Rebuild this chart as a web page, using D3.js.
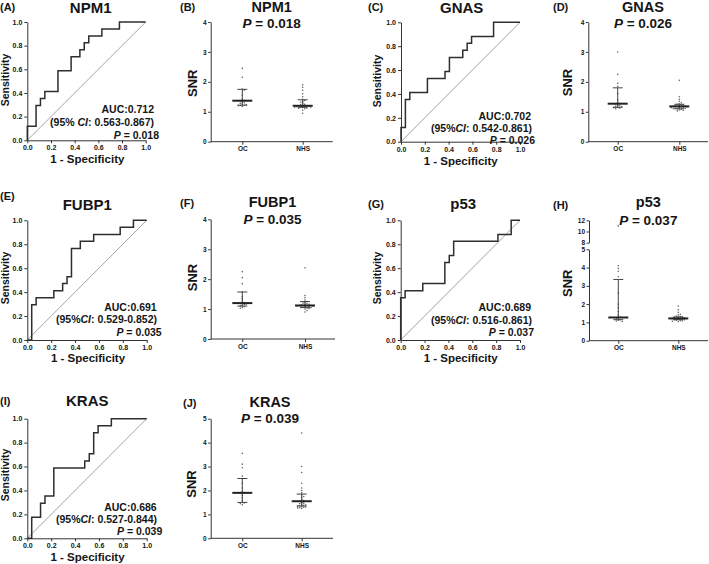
<!DOCTYPE html>
<html><head><meta charset="utf-8">
<script src="https://cdn.jsdelivr.net/npm/d3@7"></script>
<style>
body{margin:0;background:#fff}
svg{display:block}
text{font-family:"Liberation Sans",Arial,sans-serif;font-weight:bold;fill:#151515}
</style>
</head><body>
<svg id="c" width="709" height="564"></svg>
<script>
// ---------------- DATA ----------------
const rocGenes = ["NPM1", "GNAS", "FUBP1", "p53", "KRAS"];
const rocLetters = ["(A)", "(C)", "(E)", "(G)", "(I)"];
const aucValues = ["0.712", "0.702", "0.691", "0.689", "0.686"];
const ciLow = ["0.563", "0.542", "0.529", "0.516", "0.527"];
const ciHigh = ["0.867", "0.861", "0.852", "0.861", "0.844"];
const pValues = ["0.018", "0.026", "0.035", "0.037", "0.039"];
const rocTicks = [0, 0.2, 0.4, 0.6, 0.8, 1.0];

// ROC step corners (1 - specificity, sensitivity)
const npm1Fpr = [0, 0, 0.074, 0.111, 0.148, 0.259, 0.370, 0.444, 0.481, 0.519, 0.630, 0.778, 1.0];
const npm1Tpr = [0, 0.118, 0.294, 0.353, 0.412, 0.588, 0.706, 0.765, 0.824, 0.882, 0.941, 1.0, 1.0];
const gnasFpr = [0, 0, 0.037, 0.074, 0.222, 0.370, 0.407, 0.519, 0.556, 0.593, 0.778, 1.0];
const gnasTpr = [0, 0.118, 0.353, 0.412, 0.529, 0.588, 0.706, 0.765, 0.824, 0.882, 1.0, 1.0];
const fubp1Fpr = [0, 0.037, 0.074, 0.222, 0.296, 0.333, 0.370, 0.444, 0.556, 0.778, 0.889, 1.0];
const fubp1Tpr = [0, 0.294, 0.353, 0.412, 0.471, 0.529, 0.765, 0.824, 0.882, 0.941, 1.0, 1.0];
const p53Fpr = [0, 0, 0.037, 0.185, 0.370, 0.407, 0.444, 0.815, 0.926, 1.0];
const p53Tpr = [0, 0.353, 0.412, 0.471, 0.647, 0.706, 0.824, 0.882, 1.0, 1.0];
const krasFpr = [0, 0.037, 0.111, 0.148, 0.222, 0.481, 0.519, 0.556, 0.593, 0.704, 1.0];
const krasTpr = [0, 0.176, 0.294, 0.353, 0.588, 0.647, 0.706, 0.882, 0.941, 1.0, 1.0];

// SNR scatter data
const groups = ["OC", "NHS"];
const scatterGenes = ["NPM1", "GNAS", "FUBP1", "p53", "KRAS"];
const scatterLetters = ["(B)", "(D)", "(F)", "(H)", "(J)"];

const npm1OC = [2.45, 2.15, 1.76, 1.72, 1.55, 1.42, 1.38, 1.37, 1.33, 1.30, 1.28, 1.25, 1.24, 1.22, 1.21, 1.20, 1.18];
const npm1NHS = [1.90, 1.82, 1.72, 1.60, 1.50, 1.42, 1.38, 1.35, 1.32, 1.28, 1.25, 1.23, 1.21, 1.20, 1.20, 1.19, 1.18, 1.17, 1.16, 1.15, 1.15, 1.14, 1.13, 1.12, 1.10, 1.05, 0.95];
const npm1Median = [1.37, 1.20], npm1Q1 = [1.22, 1.15], npm1Q3 = [1.75, 1.40];

const gnasOC = [3.0, 2.25, 1.95, 1.85, 1.6, 1.4, 1.3, 1.27, 1.25, 1.22, 1.2, 1.18, 1.17, 1.15, 1.14, 1.12, 1.1];
const gnasNHS = [2.05, 1.5, 1.42, 1.35, 1.3, 1.27, 1.25, 1.23, 1.22, 1.2, 1.2, 1.19, 1.18, 1.18, 1.17, 1.16, 1.15, 1.14, 1.13, 1.12, 1.12, 1.1, 1.1, 1.08, 1.06, 1.05, 1.03];
const gnasMedian = [1.27, 1.18], gnasQ1 = [1.15, 1.10], gnasQ3 = [1.80, 1.25];

const fubp1OC = [2.25, 2.05, 1.85, 1.58, 1.42, 1.35, 1.28, 1.22, 1.2, 1.18, 1.16, 1.15, 1.12, 1.1, 1.08, 1.05, 1.03];
const fubp1NHS = [2.38, 1.45, 1.38, 1.3, 1.25, 1.22, 1.2, 1.18, 1.16, 1.15, 1.14, 1.13, 1.12, 1.12, 1.11, 1.1, 1.1, 1.09, 1.08, 1.07, 1.06, 1.05, 1.04, 1.02, 1.0, 0.95, 0.9];
const fubp1Median = [1.20, 1.12], fubp1Q1 = [1.10, 1.05], fubp1Q3 = [1.57, 1.25];

const p53OC = [11.0, 4.1, 3.95, 3.8, 3.5, 2.6, 2.0, 1.8, 1.6, 1.4, 1.3, 1.25, 1.2, 1.15, 1.12, 1.08, 1.05];
const p53NHS = [1.9, 1.7, 1.55, 1.45, 1.4, 1.35, 1.32, 1.3, 1.28, 1.26, 1.25, 1.23, 1.22, 1.21, 1.2, 1.2, 1.19, 1.18, 1.17, 1.16, 1.15, 1.14, 1.12, 1.1, 1.08, 1.06, 1.05];
const p53Median = [1.27, 1.22], p53Q1 = [1.15, 1.15], p53Q3 = [3.35, 1.30];

const krasOC = [3.55, 3.1, 2.95, 2.6, 2.5, 2.3, 2.1, 1.95, 1.9, 1.88, 1.8, 1.7, 1.6, 1.5, 1.48, 1.45, 1.4];
const krasNHS = [4.4, 3.0, 2.75, 2.3, 2.1, 2.0, 1.9, 1.82, 1.75, 1.7, 1.62, 1.58, 1.55, 1.5, 1.47, 1.45, 1.42, 1.4, 1.38, 1.36, 1.35, 1.33, 1.31, 1.3, 1.28, 1.27, 1.25];
const krasMedian = [1.90, 1.55], krasQ1 = [1.50, 1.35], krasQ3 = [2.50, 1.85];

const snrTicks4 = [0, 1, 2, 3, 4];
const snrTicks5 = [0, 1, 2, 3, 4, 5];
const snrTicksUpper = [8, 10, 12];

// ---------------- LAYOUT ----------------
const FONT = '"Liberation Sans", Arial, sans-serif';
const svg = d3.select("#c");
svg.append("rect").attr("width", 709).attr("height", 564).attr("fill", "#fff");

const rocLayout = [
  {box: [27.3, 145.7, 22, 140.3], letter: [0, 11], title: [90.7, 13], ylab: [5.5, 80], xlab: [87.3, 162.5],
   ends: [154, 154, 159], bases: [113, 126, 139], ciSpace: true},
  {box: [401, 520, 22.3, 141.7], letter: [368, 11], title: [461.7, 13], ylab: [377.3, 81], xlab: [460.7, 165],
   ends: [531, 532, 535], bases: [119.5, 132, 143.5], ciSpace: false},
  {box: [27.3, 146.7, 220.3, 340], letter: [0, 200], title: [87.3, 210], ylab: [5.5, 278], xlab: [88, 361.5],
   ends: [156.7, 157, 161.7], bases: [310.7, 323, 336], ciSpace: false},
  {box: [400.7, 520, 220.3, 340], letter: [368, 208], title: [463.3, 208.5], ylab: [377.3, 278], xlab: [460.7, 361.5],
   ends: [531, 532, 534], bases: [311.3, 323.5, 336], ciSpace: false},
  {box: [27.3, 146.7, 418.7, 538.3], letter: [0, 405], title: [87.3, 406], ylab: [5.5, 475], xlab: [87.5, 561],
   ends: [156.7, 157, 162.3], bases: [510.7, 523, 535], ciSpace: false}
];

const scatterLayout = [
  {axisX: 210.7, dom: [0, 4], yr: [141.7, 22], ticks: snrTicks4, xEnd: 332.7, ocX: 242.3, nhsX: 302.7,
   title: [271.7, 12.3, 27.5], letter: [180, 11], ylab: [192, 83.3]},
  {axisX: 588.3, dom: [0, 4], yr: [141.7, 22], ticks: snrTicks4, xEnd: 708, ocX: 617.7, nhsX: 679.3,
   title: [643, 12.3, 27.5], letter: [553, 11], ylab: [567.7, 82.5]},
  {axisX: 210.7, dom: [0, 4], yr: [339, 219.3], ticks: snrTicks4, xEnd: 335, ocX: 242.3, nhsX: 305,
   title: [272.5, 207.2, 223.5], letter: [180, 207], ylab: [192, 277.5]},
  {axisX: 589, dom: [0, 5], yr: [340.7, 249.3], ticks: snrTicks5, xEnd: 708, ocX: 618.3, nhsX: 678.3,
   upper: {dom: [8, 12], yr: [242.7, 220.3], ticks: snrTicksUpper},
   title: [648.3, 207.2, 224.5], letter: [553, 209], ylab: [567.7, 283.3]},
  {axisX: 210.7, dom: [0, 5], yr: [538.3, 418.7], ticks: snrTicks5, xEnd: 333, ocX: 242.3, nhsX: 301.7,
   title: [270, 406.8, 422.8], letter: [183, 407], ylab: [191.7, 484]}
];

function styleAxis(sel, fs) {
  sel.attr("font-family", FONT).attr("font-size", fs);
  sel.selectAll("path.domain").attr("stroke", "#333").attr("stroke-width", 1);
  sel.selectAll(".tick line").attr("stroke", "#333").attr("stroke-width", 1);
  sel.selectAll(".tick text").attr("fill", "#222").attr("font-weight", "bold");
}

function italicRun(t, parts) {
  parts.forEach(([s, it]) => {
    const ts = t.append("tspan").text(s);
    if (it) ts.attr("font-style", "italic");
  });
}

// ---------------- ROC PANELS ----------------
const rocFpr = [npm1Fpr, gnasFpr, fubp1Fpr, p53Fpr, krasFpr];
const rocTpr = [npm1Tpr, gnasTpr, fubp1Tpr, p53Tpr, krasTpr];

rocGenes.forEach((gene, i) => {
  const L = rocLayout[i];
  const g = svg.append("g");
  const x = d3.scaleLinear().domain([0, 1]).range([L.box[0], L.box[1]]);
  const y = d3.scaleLinear().domain([0, 1]).range([L.box[3], L.box[2]]);

  g.append("path")
    .datum([[0, 0], [1, 1]])
    .attr("d", d3.line().x(d => x(d[0])).y(d => y(d[1])))
    .attr("stroke", "#8a8a8a").attr("stroke-width", 0.8).attr("fill", "none");

  const pts = rocFpr[i].map((f, k) => [f, rocTpr[i][k]]);
  g.append("path")
    .datum(pts)
    .attr("d", d3.line().x(d => x(d[0])).y(d => y(d[1])).curve(d3.curveStepAfter))
    .attr("stroke", "#2e2e2e").attr("stroke-width", 1.5).attr("fill", "none");

  const ax = g.append("g").attr("transform", `translate(0,${y(0)})`)
    .call(d3.axisBottom(x).tickValues(rocTicks).tickFormat(d3.format(".1f")).tickSize(3).tickSizeOuter(0).tickPadding(2));
  styleAxis(ax, 7);
  const ay = g.append("g").attr("transform", `translate(${x(0)},0)`)
    .call(d3.axisLeft(y).tickValues(rocTicks).tickFormat(d3.format(".1f")).tickSize(3).tickSizeOuter(0).tickPadding(2));
  styleAxis(ay, 7);

  g.append("text").attr("x", L.letter[0]).attr("y", L.letter[1]).attr("font-size", 11).text(rocLetters[i]);
  g.append("text").attr("x", L.title[0]).attr("y", L.title[1]).attr("text-anchor", "middle")
    .attr("font-size", 15).text(gene);
  g.append("text").attr("transform", `translate(${L.ylab[0]},${L.ylab[1]}) rotate(-90)`)
    .attr("text-anchor", "middle").attr("dy", "0.35em").attr("font-size", 10.5).text("Sensitivity");
  g.append("text").attr("x", L.xlab[0]).attr("y", L.xlab[1]).attr("text-anchor", "middle")
    .attr("font-size", 11.5).text("1 - Specificity");

  g.append("text").attr("x", L.ends[0]).attr("y", L.bases[0]).attr("text-anchor", "end")
    .attr("font-size", 10.5).text("AUC:" + aucValues[i]);
  const ci = g.append("text").attr("x", L.ends[1]).attr("y", L.bases[1]).attr("text-anchor", "end").attr("font-size", 10.5);
  italicRun(ci, [[L.ciSpace ? "(95% " : "(95%", false], ["CI", true], [": " + ciLow[i] + "-" + ciHigh[i] + ")", false]]);
  const pt = g.append("text").attr("x", L.ends[2]).attr("y", L.bases[2]).attr("text-anchor", "end").attr("font-size", 10.5);
  italicRun(pt, [["P", true], [" = " + pValues[i], false]]);
});

// ---------------- SCATTER PANELS ----------------
const scatterOC = [npm1OC, gnasOC, fubp1OC, p53OC, krasOC];
const scatterNHS = [npm1NHS, gnasNHS, fubp1NHS, p53NHS, krasNHS];
const scatterMed = [npm1Median, gnasMedian, fubp1Median, p53Median, krasMedian];
const scatterQ1 = [npm1Q1, gnasQ1, fubp1Q1, p53Q1, krasQ1];
const scatterQ3 = [npm1Q3, gnasQ3, fubp1Q3, p53Q3, krasQ3];

scatterGenes.forEach((gene, i) => {
  const L = scatterLayout[i];
  const g = svg.append("g");
  const x = d3.scalePoint().domain(groups).range([L.ocX, L.nhsX]);
  const y = d3.scaleLinear().domain(L.dom).range(L.yr);
  const yU = L.upper ? d3.scaleLinear().domain(L.upper.dom).range(L.upper.yr) : null;
  const yy = v => (yU && v > L.dom[1]) ? yU(v) : y(v);

  // x axis
  g.append("line").attr("x1", L.axisX).attr("x2", L.xEnd).attr("y1", y(0)).attr("y2", y(0))
    .attr("stroke", "#333").attr("stroke-width", 1);
  const ax = g.append("g").attr("transform", `translate(0,${y(0)})`)
    .call(d3.axisBottom(x).tickSize(3).tickSizeOuter(0).tickPadding(2));
  ax.select("path.domain").remove();
  styleAxis(ax, 6.5);

  // y axis (lower, and upper segment if broken)
  const ay = g.append("g").attr("transform", `translate(${L.axisX},0)`)
    .call(d3.axisLeft(y).tickValues(L.ticks).tickFormat(d3.format("d")).tickSize(2.5).tickSizeOuter(0).tickPadding(1.5));
  styleAxis(ay, 6.5);
  if (yU) {
    const au = g.append("g").attr("transform", `translate(${L.axisX},0)`)
      .call(d3.axisLeft(yU).tickValues(L.upper.ticks).tickFormat(d3.format("d")).tickSize(2.5).tickSizeOuter(0).tickPadding(1.5));
    styleAxis(au, 6.5);
  }

  // points
  [scatterOC[i], scatterNHS[i]].forEach((vals, gi) => {
    const cx = x(groups[gi]);
    const placed = [];
    const sorted = vals.slice().sort((a, b) => b - a);
    const offs = [0, 2.0, -2.0, 4.0, -4.0, 6.0, -6.0, 8.0, -8.0];
    sorted.forEach(v => {
      const py = yy(v);
      let px = cx;
      for (const o of offs) {
        const ok = placed.every(p => Math.hypot(p[0] - (cx + o), p[1] - py) >= 1.9);
        if (ok) { px = cx + o; break; }
      }
      placed.push([px, py]);
    });
    g.selectAll(null).data(placed).enter().append("circle")
      .attr("cx", d => d[0]).attr("cy", d => d[1]).attr("r", 0.8)
      .attr("fill", "#666");

    // median & interquartile range
    const med = scatterMed[i][gi], q1 = scatterQ1[i][gi], q3 = scatterQ3[i][gi];
    g.append("line").attr("x1", cx).attr("x2", cx).attr("y1", yy(q1)).attr("y2", yy(q3))
      .attr("stroke", "#444").attr("stroke-width", 1);
    [q1, q3].forEach(q => g.append("line").attr("x1", cx - 5).attr("x2", cx + 5).attr("y1", yy(q)).attr("y2", yy(q))
      .attr("stroke", "#444").attr("stroke-width", 1));
    g.append("line").attr("x1", cx - 10).attr("x2", cx + 10).attr("y1", yy(med)).attr("y2", yy(med))
      .attr("stroke", "#222").attr("stroke-width", 2);
  });

  g.append("text").attr("x", L.letter[0]).attr("y", L.letter[1]).attr("font-size", 11).text(scatterLetters[i]);
  g.append("text").attr("x", L.title[0]).attr("y", L.title[1]).attr("text-anchor", "middle")
    .attr("font-size", 14.5).text(gene);
  const pt = g.append("text").attr("x", L.title[0]).attr("y", L.title[2]).attr("text-anchor", "middle").attr("font-size", 13.5);
  italicRun(pt, [["P", true], [" = " + pValues[i], false]]);
  g.append("text").attr("transform", `translate(${L.ylab[0]},${L.ylab[1]}) rotate(-90)`)
    .attr("text-anchor", "middle").attr("dy", "0.35em").attr("font-size", 13).text("SNR");
});
</script>
</body></html>
